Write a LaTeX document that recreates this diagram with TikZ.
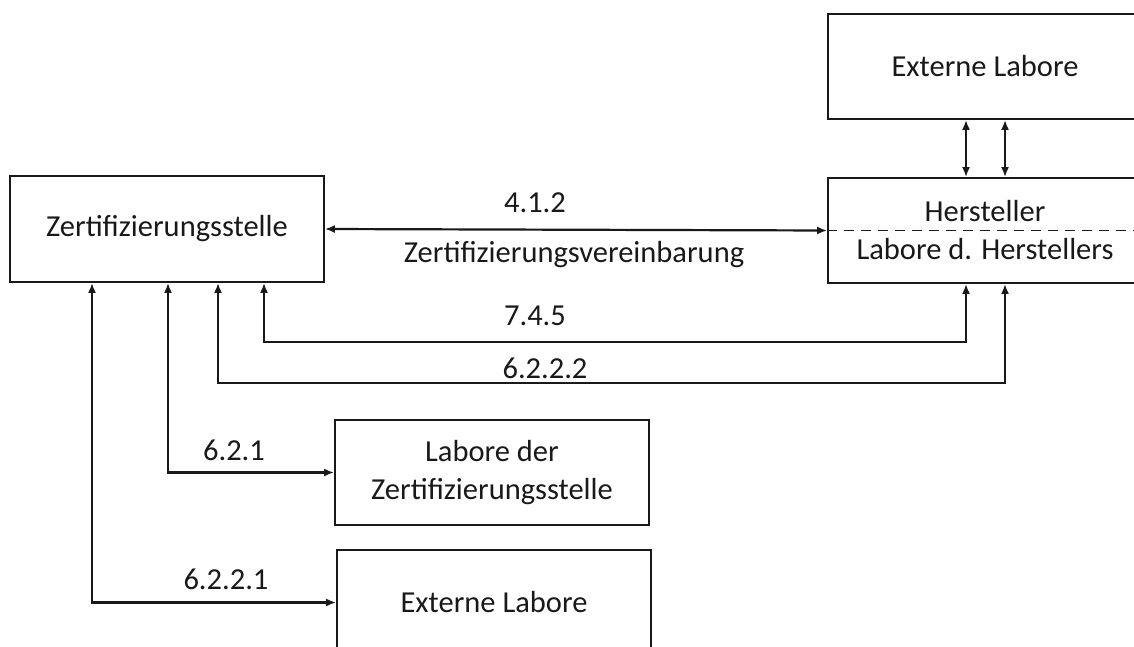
\documentclass[tikz,border=0pt]{standalone}
\usepackage{fontspec}
\setmainfont{Carlito}
\usepackage{tikz}
\usetikzlibrary{arrows.meta,positioning}
\tikzset{
>={Latex[length=10pt,width=8pt]}, % small filled arrow heads
box/.style={draw, line width=1.8pt, minimum width=314pt, minimum height=105pt, align=center, inner sep=0pt}, % every block
link/.style={<->, line width=2.2pt}, % connectors between blocks
lbl/.style={inner sep=0pt}, % the section numbers
}

\begin{document}
\begin{tikzpicture}[x=1pt, y=-1pt, font=\fontsize{30.5}{38}\selectfont, color=black!90]
\useasboundingbox (0,0) rectangle (1134,647);
\clip (0,0) rectangle (1134,647);
\node[box, minimum height=106pt] (zs) at (167,229) {Zertifizierungsstelle};
\node[box] (exttop) at (985,66.5) {Externe Labore};
\node[box] (hst) at (985,230.5) {Hersteller\\Labore d. Herstellers};
\node[box] (lzs) at (492,472.5) {Labore der\\Zertifizierungsstelle};
\node[box] (extbot) at (494,602.5) {Externe Labore};
\draw[line width=1.8pt, dash pattern=on 10pt off 7pt] (hst.west) -- (hst.east);
% section labels
\node[lbl] (l412) at (535,203) {4.1.2};
\node[lbl] (lzv) at (574,255) {Zertifizierungsvereinbarung};
\node[lbl] (l745) at (535,316) {7.4.5};
\node[lbl] (l6222) at (545,368) {6.2.2.2};
\node[lbl] (l621) at (234,450) {6.2.1};
\node[lbl] (l6221) at (226,579) {6.2.2.1};
% connectors
\draw[link] (zs.east) -- (hst.west);
\draw[link] ([xshift=-19pt]exttop.south) -- ([xshift=-19pt]hst.north);
\draw[link] ([xshift=20pt]exttop.south) -- ([xshift=20pt]hst.north);
\draw[link] ([xshift=-19pt]hst.south) -- ++(0,58) -| ([xshift=97pt]zs.south);
\draw[link] ([xshift=20pt]hst.south) -- ++(0,99) -| ([xshift=51pt]zs.south);
\draw[link] ([xshift=1pt]zs.south) |- (lzs.west);
\draw[link] ([xshift=-75pt]zs.south) |- (extbot.west);
\end{tikzpicture}
\end{document}
